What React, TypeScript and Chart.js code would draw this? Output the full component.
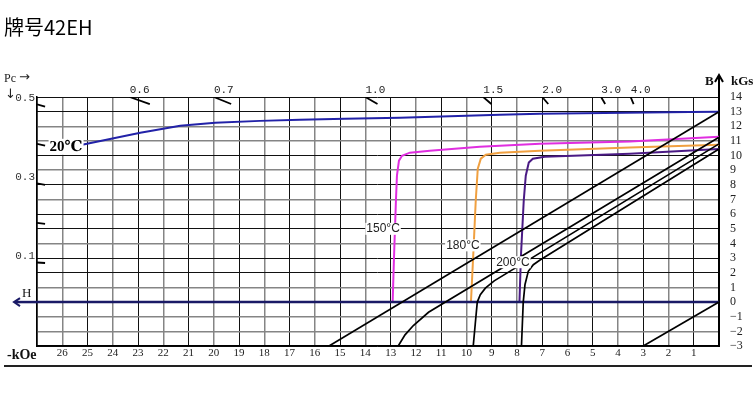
import React, { useEffect, useRef } from 'react';
import { Chart, registerables } from 'chart.js';

Chart.register(...registerables);

// ---------- text ----------
const TITLE = '牌号42EH';

// ---------- axes ----------
const H_TICK_LABELS = [26, 25, 24, 23, 22, 21, 20, 19, 18, 17, 16, 15, 14, 13, 12, 11, 10, 9, 8, 7, 6, 5, 4, 3, 2, 1];
const B_TICK_LABELS = [14, 13, 12, 11, 10, 9, 8, 7, 6, 5, 4, 3, 2, 1, 0, -1, -2, -3];
const H_RANGE = [-27, 0];
const B_RANGE = [-3, 14];
const PC_LEFT = [0.1, 0.2, 0.3, 0.4, 0.5];
const PC_LEFT_LABELED = [0.1, 0.3, 0.5];
const PC_TOP = [0.6, 0.7, 1.0, 1.5, 2.0, 3.0, 4.0];

// ---------- 20°C ----------
const J20_H = [-25.21, -22.91, -21.33, -19.95, -18.17, -16.59, -14.81, -12.63, -8.68, -7.09, -1.16, 0];
const J20_B = [10.74, 11.56, 12.03, 12.24, 12.37, 12.44, 12.51, 12.58, 12.78, 12.85, 12.98, 13.0];
const N20_H = [0, -15.44];
const N20_B = [13.0, -3];

// ---------- 150°C ----------
const J150_H = [0, -3.53, -7.09, -9.47, -11.45, -12.24, -12.55, -12.67, -12.75, -12.79, -12.87, -12.92];
const J150_B = [11.28, 10.97, 10.81, 10.6, 10.33, 10.2, 9.99, 9.65, 8.63, 6.93, 2.86, 0];
const N150_H = [0, -11.5, -12.1, -12.43, -12.7];
const N150_B = [11.25, -0.7, -1.6, -2.24, -3];

// ---------- 180°C ----------
const J180_H = [0, -3.53, -7.09, -8.68, -9.23, -9.43, -9.55, -9.63, -9.72, -9.82];
const J180_B = [10.74, 10.56, 10.33, 10.2, 10.06, 9.79, 9.11, 6.93, 3.54, 0];
const N180_H = [0, -8.9, -9.25, -9.45, -9.57, -9.65, -9.73];
const N180_B = [10.8, 1.45, 0.95, 0.5, 0, -1.5, -3];

// ---------- 200°C ----------
const J200_H = [0, -3.53, -6.9, -7.37, -7.53, -7.65, -7.73, -7.84, -7.9];
const J200_B = [10.45, 10.12, 9.92, 9.79, 9.52, 8.63, 6.93, 3.2, 0];
const N200_H = [0, -7.1, -7.35, -7.55, -7.68, -7.75, -7.82];
const N200_B = [10.45, 2.85, 2.55, 2.1, 1.2, 0, -3];

// ---------- B = H reference line ----------
const REF_H = [0, -3];
const REF_B = [0, -3];

// ---------- H axis ----------
const HAXIS_H = [-27, 0];
const HAXIS_B = [0, 0];

// ---------- curve labels (text, H, B) ----------
const CURVE_LABELS = [
  { text: '150°C', h: -13.3, b: 5.0 },
  { text: '180°C', h: -10.14, b: 3.87 },
  { text: '200°C', h: -8.16, b: 2.72 },
];
const LABEL_20 = { text: '20℃', h: -25.85, b: 10.6 };

// ---------- styles ----------
const BLACK_ROWS = new Set([14, 13, 10, 8, 6, 5, 3, 2, -3]);
const C_J20 = '#2222a8';
const C_150 = '#e02ee0';
const C_180 = '#f0a040';
const C_200 = '#4a1a84';
const C_HAXIS = '#1a1a66';
const C_GRID_DARK = '#111';
const C_GRID_LIGHT = '#858585';

const pts = (h: number[], b: number[]) => h.map((v, i) => ({ x: v, y: b[i] }));

const line = (data: any[], color: string, width: number) => ({
  data,
  showLine: true,
  borderColor: color,
  backgroundColor: color,
  borderWidth: width,
  pointRadius: 0,
  tension: 0,
  fill: false,
});

const decorPlugin = {
  id: 'decor',
  afterDraw(chart: any) {
    const { ctx, chartArea, scales } = chart;
    const xs = scales.x;
    const ys = scales.y;
    ctx.save();
    ctx.fillStyle = '#000';
    ctx.strokeStyle = '#000';
    ctx.textBaseline = 'middle';

    // title
    ctx.textAlign = 'left';
    ctx.font = '20px "Noto Sans CJK SC", sans-serif';
    ctx.fillText(TITLE, 4, 27);

    // Pc →
    ctx.font = '12px "Liberation Serif", serif';
    ctx.fillStyle = '#222';
    ctx.fillText('Pc', 4, 79);
    ctx.font = '13px "DejaVu Sans", sans-serif';
    ctx.fillText('→', 19, 78);
    ctx.fillText('↓', 5, 95);

    // top Pc labels
    ctx.font = '11px "Liberation Mono", monospace';
    ctx.textAlign = 'center';
    ctx.fillStyle = '#222';
    PC_TOP.forEach((pc) => {
      const x = xs.getPixelForValue(-B_RANGE[1] / pc) + 10;
      ctx.fillText(pc.toFixed(1), x, chartArea.top - 7);
    });

    // H axis extension with arrow
    const y0 = ys.getPixelForValue(0);
    ctx.strokeStyle = C_HAXIS;
    ctx.lineWidth = 2.5;
    ctx.beginPath();
    ctx.moveTo(chartArea.left, y0);
    ctx.lineTo(15, y0);
    ctx.stroke();
    ctx.lineWidth = 2;
    ctx.beginPath();
    ctx.moveTo(20, y0 - 4);
    ctx.lineTo(14, y0);
    ctx.lineTo(20, y0 + 4);
    ctx.stroke();
    ctx.fillStyle = '#111';
    ctx.textAlign = 'left';
    ctx.font = '13px "Liberation Serif", serif';
    ctx.fillText('H', 22, 294);

    // -kOe
    ctx.font = 'bold 14px "Liberation Serif", serif';
    ctx.fillText('-kOe', 7, 355);

    // B arrow
    const xr = chartArea.right;
    ctx.strokeStyle = '#000';
    ctx.lineWidth = 2;
    ctx.beginPath();
    ctx.moveTo(xr, chartArea.top);
    ctx.lineTo(xr, chartArea.top - 21);
    ctx.stroke();
    ctx.beginPath();
    ctx.moveTo(xr - 4, chartArea.top - 15);
    ctx.lineTo(xr, chartArea.top - 22);
    ctx.lineTo(xr + 4, chartArea.top - 15);
    ctx.stroke();
    ctx.font = 'bold 13px "Liberation Serif", serif';
    ctx.fillText('B', 705, 82);
    ctx.fillText('kGs', 731, 82);

    // curve labels
    ctx.font = '12px "Liberation Sans", sans-serif';
    ctx.textAlign = 'center';
    CURVE_LABELS.forEach((l) => {
      const x = xs.getPixelForValue(l.h);
      const y = ys.getPixelForValue(l.b);
      const w = ctx.measureText(l.text).width;
      ctx.fillStyle = '#fff';
      ctx.fillRect(x - w / 2 - 1, y - 6, w + 2, 12);
      ctx.fillStyle = '#222';
      ctx.fillText(l.text, x, y);
    });
    {
      ctx.font = 'bold 15px "Liberation Serif", "DejaVu Serif", serif';
      const x = xs.getPixelForValue(LABEL_20.h);
      const y = ys.getPixelForValue(LABEL_20.b);
      const w = ctx.measureText(LABEL_20.text).width;
      ctx.fillStyle = '#fff';
      ctx.fillRect(x - w / 2 - 1, y - 8, w + 2, 16);
      ctx.fillStyle = '#000';
      ctx.fillText(LABEL_20.text, x, y);
    }

    // bottom rule
    ctx.strokeStyle = '#222';
    ctx.lineWidth = 2;
    ctx.beginPath();
    ctx.moveTo(4, 366);
    ctx.lineTo(752, 366);
    ctx.stroke();

    ctx.restore();
  },
};

export default function App() {
  const ref = useRef<HTMLCanvasElement | null>(null);

  useEffect(() => {
    if (!ref.current) return;

    const markSets: any[] = [];
    PC_TOP.forEach((pc) => {
      const b0 = B_RANGE[1];
      const b1 = B_RANGE[1] - 0.48;
      markSets.push(line([{ x: -b0 / pc, y: b0 }, { x: -b1 / pc, y: b1 }], '#000', 1.8));
    });
    PC_LEFT.forEach((pc) => {
      const h0 = H_RANGE[0];
      const h1 = H_RANGE[0] + 0.32;
      markSets.push(line([{ x: h0, y: -pc * h0 }, { x: h1, y: -pc * h1 }], '#000', 1.8));
    });

    const chart = new Chart(ref.current, {
      type: 'scatter',
      data: {
        datasets: [
          line(pts(N20_H, N20_B), '#000', 1.7),
          line(pts(N150_H, N150_B), '#000', 1.7),
          line(pts(N180_H, N180_B), '#000', 1.7),
          line(pts(N200_H, N200_B), '#000', 1.7),
          line(pts(REF_H, REF_B), '#000', 1.7),
          line(pts(HAXIS_H, HAXIS_B), C_HAXIS, 2.5),
          line(pts(J20_H, J20_B), C_J20, 2),
          line(pts(J150_H, J150_B), C_150, 2),
          line(pts(J180_H, J180_B), C_180, 2),
          line(pts(J200_H, J200_B), C_200, 2),
          ...markSets,
        ] as any,
      },
      options: {
        animation: false,
        responsive: false,
        devicePixelRatio: 1,
        layout: { padding: { top: 97, left: 0, right: 0, bottom: 0 } },
        plugins: {
          legend: { display: false },
          tooltip: { enabled: false },
          title: { display: false },
        },
        scales: {
          x: {
            type: 'linear',
            position: 'bottom',
            min: H_RANGE[0],
            max: H_RANGE[1],
            afterBuildTicks: (scale: any) => {
              scale.ticks = [H_RANGE[0], ...H_TICK_LABELS.map((h) => -h), H_RANGE[1]].map((v) => ({ value: v }));
            },
            afterFit: (scale: any) => {
              scale.height = 73;
            },
            ticks: {
              autoSkip: false,
              maxRotation: 0,
              padding: 1,
              color: '#222',
              font: { family: '"Liberation Serif", serif', size: 11 },
              callback: (v: any) => (v > H_RANGE[0] && v < H_RANGE[1] ? String(-v) : ''),
            },
            grid: {
              drawTicks: false,
              color: (c: any) => {
                const v = c.tick ? c.tick.value : 0;
                if (v === H_RANGE[0] || v === H_RANGE[1]) return '#000';
                return Math.abs(v) % 2 === 1 ? C_GRID_DARK : C_GRID_LIGHT;
              },
              lineWidth: (c: any) => {
                const v = c.tick ? c.tick.value : 0;
                if (v === H_RANGE[0] || v === H_RANGE[1]) return 1.5;
                return Math.abs(v) % 2 === 1 ? 1 : 1.5;
              },
            },
            border: { display: true, color: '#000', width: 1.5 },
          },
          y: {
            type: 'linear',
            position: 'right',
            min: B_RANGE[0],
            max: B_RANGE[1],
            afterBuildTicks: (scale: any) => {
              scale.ticks = [...B_TICK_LABELS].reverse().map((v) => ({ value: v }));
            },
            afterFit: (scale: any) => {
              scale.width = 37;
            },
            ticks: {
              autoSkip: false,
              padding: 11,
              color: '#222',
              font: { family: '"Liberation Serif", serif', size: 12 },
              callback: (v: any) => (v < 0 ? '−' + String(-v) : String(v)),
            },
            grid: {
              drawTicks: false,
              color: (c: any) => {
                const v = c.tick ? c.tick.value : 0;
                return BLACK_ROWS.has(v) ? C_GRID_DARK : C_GRID_LIGHT;
              },
              lineWidth: (c: any) => {
                const v = c.tick ? c.tick.value : 0;
                return BLACK_ROWS.has(v) ? 1 : 1.5;
              },
            },
            border: { display: true, color: '#000', width: 2 },
          },
          yPc: {
            type: 'linear',
            position: 'left',
            min: B_RANGE[0] / -H_RANGE[0],
            max: B_RANGE[1] / -H_RANGE[0],
            afterBuildTicks: (scale: any) => {
              scale.ticks = PC_LEFT.map((v) => ({ value: v }));
            },
            afterFit: (scale: any) => {
              scale.width = 37;
            },
            ticks: {
              autoSkip: false,
              padding: 2,
              labelOffset: -6,
              color: '#333',
              font: { family: '"Liberation Mono", monospace', size: 11 },
              callback: (v: any) => {
                const hit = PC_LEFT_LABELED.find((p) => Math.abs(p - v) < 1e-6);
                return hit !== undefined ? hit.toFixed(1) : '';
              },
            },
            grid: { display: false, drawTicks: false },
            border: { display: true, color: '#000', width: 1.5 },
          },
        },
      } as any,
      plugins: [decorPlugin],
    });

    return () => chart.destroy();
  }, []);

  return (
    <div style={{ position: 'absolute', left: 0, top: 0, width: 756, height: 419, background: '#fff' }}>
      <canvas ref={ref} width={756} height={419} style={{ display: 'block' }} />
    </div>
  );
}
